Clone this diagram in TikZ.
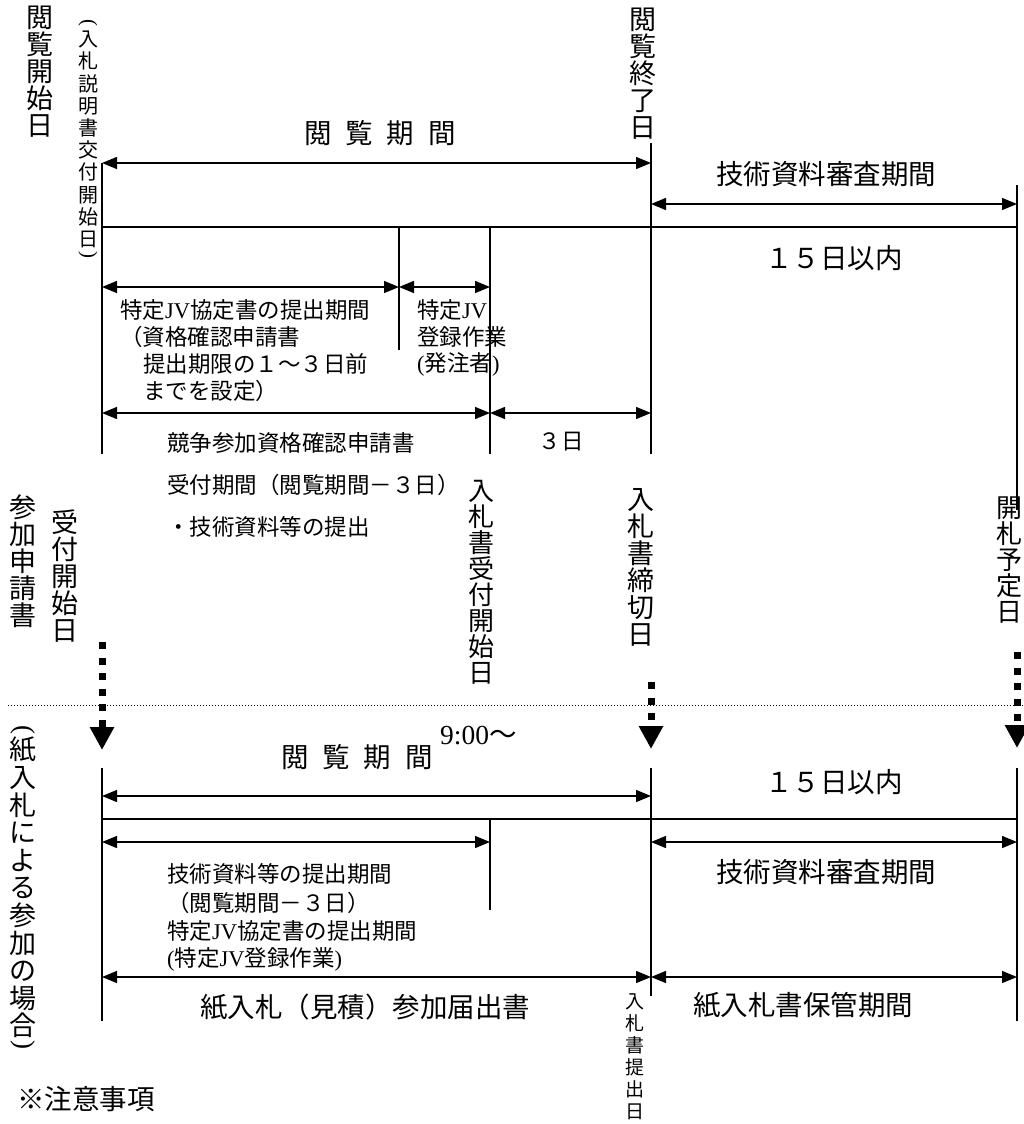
\documentclass[tikz,border=0pt]{standalone}
\usepackage{fontspec}
\usepackage{graphicx}
\setmainfont{Noto Sans CJK JP}
\newfontfamily\serif{Liberation Serif}
\usetikzlibrary{arrows.meta}
\begin{document}
\begin{tikzpicture}[x=1pt,y=-1pt,
  ln/.style={line width=1.2pt},
  dim/.style={line width=1.4pt,{Triangle[length=15pt,width=12pt]}-{Triangle[length=15pt,width=12pt]}},
  dotarr/.style={line width=7pt,dash pattern=on 7pt off 8.5pt,-{Triangle[length=23pt,width=23pt]}},
  sep/.style={line width=1pt,dash pattern=on 1.2pt off 1.8pt},
  big/.style={font=\fontsize{27.5}{27.5}\selectfont,inner sep=0pt},
  med/.style={font=\fontsize{22.5}{27}\selectfont,inner sep=0pt,anchor=west},
  vbig/.style={font=\fontsize{27}{27}\selectfont,align=center,inner sep=0pt,anchor=north},
  vlong/.style={font=\fontsize{27}{27.6}\selectfont,align=center,inner sep=0pt,anchor=north},
  vmid/.style={font=\fontsize{26}{26}\selectfont,align=center,inner sep=0pt,anchor=north},
  vsml/.style={font=\fontsize{20}{22.2}\selectfont,align=center,inner sep=0pt,anchor=north},
  vtny/.style={font=\fontsize{19}{22}\selectfont,align=center,inner sep=0pt,anchor=north},
  pbig/.style={font=\fontsize{27}{27}\selectfont\serif,inner sep=0pt},
  psml/.style={font=\fontsize{21}{21}\selectfont\serif,inner sep=0pt}]
\useasboundingbox (0,0) rectangle (1024,1124);
% ---------- coordinates (top part) ----------
\coordinate (A0) at (102,163); \coordinate (A1) at (102,454);
\coordinate (B0) at (399,227); \coordinate (B1) at (399,350);
\coordinate (C0) at (490,227); \coordinate (C1) at (490,454);
\coordinate (D0) at (651,143); \coordinate (D1) at (651,454);
\coordinate (E0) at (1017,185); \coordinate (E1) at (1017,510);
\coordinate (H0) at (102,227); \coordinate (H1) at (1017,227);
\coordinate (r1a) at (102,163); \coordinate (r1b) at (651,163);
\coordinate (r1c) at (651,204); \coordinate (r1d) at (1017,204);
\coordinate (r2a) at (102,287); \coordinate (r2b) at (399,287); \coordinate (r2c) at (490,287);
\coordinate (r3a) at (102,413); \coordinate (r3b) at (490,413); \coordinate (r3c) at (651,413);
% dotted arrows
\coordinate (dA0) at (102,642); \coordinate (dA1) at (102,750);
\coordinate (dD0) at (651,682); \coordinate (dD1) at (651,749);
\coordinate (dE0) at (1017,652); \coordinate (dE1) at (1017,748);
\coordinate (S0) at (8,705); \coordinate (S1) at (1024,705);
% ---------- coordinates (bottom part) ----------
\coordinate (a0) at (102,768); \coordinate (a1) at (102,1021);
\coordinate (c0) at (490,819); \coordinate (c1) at (490,910);
\coordinate (d0) at (651,768); \coordinate (d1) at (651,996);
\coordinate (e0) at (1017,768); \coordinate (e1) at (1017,1021);
\coordinate (h0) at (102,819); \coordinate (h1) at (1017,819);
\coordinate (s1a) at (102,796); \coordinate (s1b) at (651,796);
\coordinate (s2a) at (102,842); \coordinate (s2b) at (490,842);
\coordinate (s2c) at (651,842); \coordinate (s2d) at (1017,842);
\coordinate (s3a) at (102,977); \coordinate (s3b) at (651,977); \coordinate (s3c) at (1017,977);
% ---------- lines ----------
\draw[ln] (A0) -- (A1); \draw[ln] (B0) -- (B1); \draw[ln] (C0) -- (C1);
\draw[ln] (D0) -- (D1); \draw[ln] (E0) -- (E1); \draw[ln] (H0) -- (H1);
\draw[dim] (r1a) -- (r1b); \draw[dim] (r1c) -- (r1d);
\draw[dim] (r2a) -- (r2b); \draw[dim] (r2b) -- (r2c);
\draw[dim] (r3a) -- (r3b); \draw[dim] (r3b) -- (r3c);
\draw[dotarr] (dA0) -- (dA1); \draw[dotarr] (dD0) -- (dD1); \draw[dotarr] (dE0) -- (dE1);
\draw[sep] (S0) -- (S1);
\draw[ln] (a0) -- (a1); \draw[ln] (c0) -- (c1); \draw[ln] (d0) -- (d1);
\draw[ln] (e0) -- (e1); \draw[ln] (h0) -- (h1);
\draw[dim] (s1a) -- (s1b);
\draw[dim] (s2a) -- (s2b); \draw[dim] (s2c) -- (s2d);
\draw[dim] (s3a) -- (s3b); \draw[dim] (s3b) -- (s3c);
% ---------- texts (top) ----------
\node[vbig] (v1) at (40,6) {閲\\覧\\開\\始\\日};
\node[psml] (p1) at (88,24) {\rotatebox[origin=c]{-90}{(}};
\node[vsml] (v2) at (88,31) {入\\札\\説\\明\\書\\交\\付\\開\\始\\日};
\node[psml] (p2) at (88,256) {\rotatebox[origin=c]{-90}{)}};
\node[vbig] (v3) at (643,8) {閲\\覧\\終\\了\\日};
\node[big] (t1) at (380,133) {閲\hspace{0.5em}覧\hspace{0.5em}期\hspace{0.5em}間};
\node[big] (t2) at (826,174) {技術資料審査期間};
\node[big] (t3) at (834,258) {１５日以内};
\node[med] (t4) at (120,310) {特定{\serif JV}協定書の提出期間};
\node[med] (t5) at (120,337) {（資格確認申請書};
\node[med] (t6) at (143,364) {提出期限の１～３日前};
\node[med] (t7) at (143,391) {までを設定）};
\node[med] (t8) at (417,310) {特定{\serif JV}};
\node[med] (t9) at (417,337) {登録作業};
\node[med] (t10) at (417,364) {{\serif (}発注者{\serif )}};
\node[med] (t11) at (167,443) {競争参加資格確認申請書};
\node[med,anchor=center] (t12) at (561,442) {３日};
\node[med] (t13) at (167,485) {受付期間（閲覧期間－３日）};
\node[med] (t14) at (167,527) {・技術資料等の提出};
\node[vbig] (v4) at (23,495) {参\\加\\申\\請\\書};
\node[vbig] (v5) at (65,510) {受\\付\\開\\始\\日};
\node[vmid] (v6) at (481,480) {入\\札\\書\\受\\付\\開\\始\\日};
\node[vbig] (v7) at (641,488) {入\\札\\書\\締\\切\\日};
\node[vmid] (v8) at (1009,497) {開\\札\\予\\定\\日};
% ---------- texts (bottom) ----------
\node[pbig] (p3) at (23,731) {\rotatebox[origin=c]{-90}{(}};
\node[vlong] (v9) at (23,737) {紙\\入\\札\\に\\よ\\る\\参\\加\\の\\場\\合};
\node[pbig] (p4) at (23,1046) {\rotatebox[origin=c]{-90}{)}};
\node[big] (b1) at (357,757) {閲\hspace{0.5em}覧\hspace{0.5em}期\hspace{0.5em}間};
\node[big,anchor=west] (b2) at (440,736) {{\serif 9:00}～};
\node[big] (b3) at (834,782) {１５日以内};
\node[big] (b4) at (826,872) {技術資料審査期間};
\node[med] (b5) at (167,874) {技術資料等の提出期間};
\node[med] (b6) at (167,903) {（閲覧期間－３日）};
\node[med] (b7) at (167,931) {特定{\serif JV}協定書の提出期間};
\node[med] (b8) at (167,959) {{\serif (}特定{\serif JV}登録作業{\serif )}};
\node[big] (b9) at (365,1007) {紙入札（見積）参加届出書};
\node[big] (b10) at (803,1005) {紙入札書保管期間};
\node[vtny] (v10) at (635,993) {入\\札\\書\\提\\出\\日};
\node[big,anchor=west] (b11) at (17,1099) {※注意事項};
\end{tikzpicture}
\end{document}
